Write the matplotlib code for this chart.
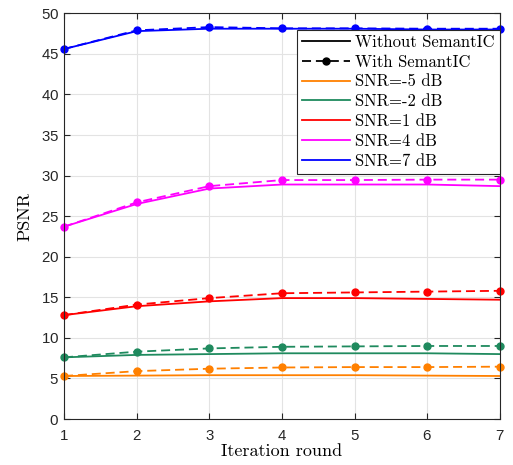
import matplotlib
matplotlib.use("Agg")
import matplotlib.pyplot as plt
from matplotlib.lines import Line2D

rounds = [1, 2, 3, 4, 5, 6, 7]
snr_labels = ["SNR=-5 dB", "SNR=-2 dB", "SNR=1 dB", "SNR=4 dB", "SNR=7 dB"]
snr_colors = ["#FF8000", "#1F8A5E", "#FF0000", "#FF00FF", "#0000FF"]

psnr_without = [
    [5.3, 5.35, 5.4, 5.4, 5.4, 5.35, 5.3],
    [7.6, 7.9, 8.0, 8.1, 8.1, 8.1, 8.0],
    [12.8, 13.9, 14.5, 14.9, 14.9, 14.8, 14.7],
    [23.7, 26.5, 28.4, 28.9, 28.9, 28.9, 28.7],
    [45.6, 47.8, 48.1, 48.1, 48.1, 48.0, 48.0],
]
psnr_with = [
    [5.3, 5.9, 6.2, 6.35, 6.4, 6.4, 6.45],
    [7.6, 8.3, 8.7, 8.9, 8.95, 9.0, 9.0],
    [12.8, 14.1, 14.9, 15.5, 15.6, 15.7, 15.8],
    [23.7, 26.7, 28.7, 29.45, 29.45, 29.5, 29.5],
    [45.6, 47.9, 48.3, 48.15, 48.15, 48.1, 48.1],
]

serif = ["cmr10", "DejaVu Serif"]
plt.rcParams["axes.formatter.use_mathtext"] = True
plt.rcParams["mathtext.fontset"] = "cm"

fig = plt.figure(figsize=(5.13, 4.65), dpi=100)
ax = fig.add_axes([0.1248, 0.0989, 0.8499, 0.8725])

dash = (0, (5, 2.7))
for color, y_wo, y_w in zip(snr_colors, psnr_without, psnr_with):
    ax.plot(rounds, y_wo, color=color, linewidth=1.3)
    ax.plot(rounds, y_w, color=color, linewidth=1.3, linestyle=dash,
            marker="o", markersize=5, clip_on=False)

ax.set_xlim(1, 7)
ax.set_ylim(0, 50)
ax.set_xticks(rounds)
ax.set_yticks(range(0, 51, 5))
ax.grid(True, color="#e3e3e3", linewidth=0.8)
ax.set_axisbelow(True)
ax.tick_params(direction="in", top=True, right=True, length=4,
               colors="#262626", labelsize=10.8)
ax.tick_params(axis="x", pad=7)
for label in ax.get_xticklabels() + ax.get_yticklabels():
    label.set_fontfamily(["Liberation Sans", "DejaVu Sans"])
for spine in ax.spines.values():
    spine.set_color("#262626")
    spine.set_linewidth(0.8)

ax.set_xlabel("Iteration round", fontsize=13, family=serif, labelpad=1)
ax.set_ylabel("PSNR", fontsize=13, family=serif, labelpad=6)

handles = [
    Line2D([], [], color="black", linewidth=1.3),
    Line2D([], [], color="black", linewidth=1.3, linestyle=dash,
           marker="o", markersize=5),
]
handles += [Line2D([], [], color=c, linewidth=1.3) for c in snr_colors]
labels = ["Without SemantIC", "With SemantIC"] + snr_labels

leg = ax.legend(handles, labels, loc="upper right", bbox_to_anchor=(1.0, 0.96),
                borderaxespad=0, prop={"family": serif, "size": 12},
                handlelength=2.9, handletextpad=0.3, labelspacing=0.27,
                borderpad=0.3, fancybox=False, framealpha=1,
                edgecolor="#262626")
leg.get_frame().set_linewidth(0.8)

fig.savefig("out.png", dpi=100)
